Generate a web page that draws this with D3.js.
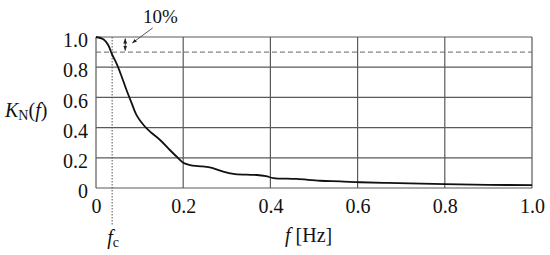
<!DOCTYPE html>
<html>
<head>
<meta charset="utf-8">
<script src="https://cdn.jsdelivr.net/npm/d3@7"></script>
<style>
  body { margin: 0; background: #fff; }
  svg text { font-family: "Liberation Serif", "DejaVu Serif", serif; fill: #111; }
</style>
</head>
<body>
<script>
// Curve K_N(f)
var freq = [0, 0.017, 0.028, 0.036, 0.047, 0.059, 0.070, 0.082, 0.093, 0.109, 0.124, 0.147, 0.170, 0.189, 0.2, 0.216, 0.235, 0.261, 0.29, 0.315, 0.345, 0.369, 0.39, 0.407, 0.46, 0.514, 0.56, 0.606, 0.66, 0.72, 0.8, 0.9, 1.0];
var kn = [1.0, 0.985, 0.947, 0.89, 0.825, 0.737, 0.649, 0.56, 0.483, 0.417, 0.373, 0.318, 0.25, 0.196, 0.167, 0.152, 0.145, 0.137, 0.11, 0.093, 0.088, 0.086, 0.078, 0.066, 0.06, 0.048, 0.044, 0.038, 0.034, 0.030, 0.026, 0.021, 0.019];

// Tick values and labels
var xTicks = [0, 0.2, 0.4, 0.6, 0.8, 1.0];
var xLabels = ["0", "0.2", "0.4", "0.6", "0.8", "1.0"];
var yTicks = [0, 0.2, 0.4, 0.6, 0.8, 1.0];
var yLabels = ["0", "0.2", "0.4", "0.6", "0.8", "1.0"];

// 10% band and cut-off frequency
var threshold = 0.9;
var fc = 0.037;

var width = 550, height = 255;
var margin = {left: 96, right: 18, top: 37, bottom: 67};
var serif = "'Liberation Serif', 'DejaVu Serif', serif";

var x = d3.scaleLinear().domain([0, 1]).range([margin.left, width - margin.right]);
var y = d3.scaleLinear().domain([0, 1]).range([height - margin.bottom, margin.top]);

var svg = d3.select("body")
    .append("svg")
    .attr("width", width)
    .attr("height", height);

var defs = svg.append("defs");
defs.append("marker")
    .attr("id", "head")
    .attr("viewBox", "0 0 10 10")
    .attr("refX", 10).attr("refY", 5)
    .attr("markerWidth", 5).attr("markerHeight", 5)
    .attr("orient", "auto-start-reverse")
    .append("path")
    .attr("d", "M0,1 L10,5 L0,9 Z")
    .attr("fill", "#222");

// grid lines
svg.append("g")
    .selectAll("line")
    .data(yTicks)
    .enter()
    .append("line")
    .attr("x1", x(0)).attr("x2", x(1))
    .attr("y1", d => y(d)).attr("y2", d => y(d))
    .attr("stroke", "#5a5a5a")
    .attr("stroke-width", 1.2);

svg.append("g")
    .selectAll("line")
    .data(xTicks)
    .enter()
    .append("line")
    .attr("x1", d => x(d)).attr("x2", d => x(d))
    .attr("y1", y(0)).attr("y2", y(1))
    .attr("stroke", "#5a5a5a")
    .attr("stroke-width", 1.2);

// dashed 90% line
svg.append("line")
    .attr("x1", x(0)).attr("x2", x(1))
    .attr("y1", y(threshold)).attr("y2", y(threshold))
    .attr("stroke", "#666")
    .attr("stroke-width", 1)
    .attr("stroke-dasharray", "5,3");

// dotted fc line
svg.append("line")
    .attr("x1", x(fc)).attr("x2", x(fc))
    .attr("y1", y(1)).attr("y2", y(0) + 37)
    .attr("stroke", "#555")
    .attr("stroke-width", 1)
    .attr("stroke-dasharray", "1.5,1.5");

// axes (labels only)
var xAxis = svg.append("g")
    .attr("transform", "translate(0," + y(0) + ")")
    .call(d3.axisBottom(x).tickValues(xTicks).tickSize(0).tickFormat((d, i) => xLabels[i]));
xAxis.attr("font-family", serif).attr("font-size", 20);
xAxis.select(".domain").remove();
xAxis.selectAll("text")
    .attr("y", 25).attr("dy", 0);

var yAxis = svg.append("g")
    .attr("transform", "translate(" + x(0) + ",0)")
    .call(d3.axisLeft(y).tickValues(yTicks).tickSize(0).tickPadding(8).tickFormat((d, i) => yLabels[i]));
yAxis.attr("font-family", serif).attr("font-size", 20);
yAxis.select(".domain").remove();
yAxis.selectAll("text")
    .attr("dy", "0.48em");

// curve
var line = d3.line()
    .x((d, i) => x(freq[i]))
    .y(d => y(d))
    .curve(d3.curveCatmullRom);

svg.append("path")
    .attr("d", line(kn))
    .attr("fill", "none")
    .attr("stroke", "#111")
    .attr("stroke-width", 1.8);

// 10% double arrow
svg.append("line")
    .attr("x1", x(0.067)).attr("x2", x(0.067))
    .attr("y1", y(0.99)).attr("y2", y(0.91))
    .attr("stroke", "#222")
    .attr("stroke-width", 1)
    .attr("marker-start", "url(#head)")
    .attr("marker-end", "url(#head)");

// pointer from label
svg.append("line")
    .attr("x1", x(0.13)).attr("y1", y(1.06))
    .attr("x2", x(0.083)).attr("y2", y(0.96))
    .attr("stroke", "#444")
    .attr("stroke-width", 0.9)
    .attr("marker-end", "url(#head)");

svg.append("text")
    .attr("x", x(0.108)).attr("y", 23)
    .attr("font-family", serif)
    .attr("font-size", 19)
    .text("10%");

// y label K_N(f)
var yl = svg.append("text")
    .attr("x", 5).attr("y", 117)
    .attr("font-family", serif)
    .attr("font-size", 20);
yl.append("tspan").attr("font-style", "italic").text("K");
yl.append("tspan").attr("dy", 3).attr("font-size", 14).text("N");
yl.append("tspan").attr("dy", -3).text("(");
yl.append("tspan").attr("font-style", "italic").text("f");
yl.append("tspan").text(")");

// x label f [Hz]
var xl = svg.append("text")
    .attr("x", 285).attr("y", 242)
    .attr("font-family", serif)
    .attr("font-size", 20);
xl.append("tspan").attr("font-style", "italic").text("f");
xl.append("tspan").text(" [Hz]");

// fc label
var fl = svg.append("text")
    .attr("x", x(fc) - 5).attr("y", 244)
    .attr("font-family", serif)
    .attr("font-size", 20);
fl.append("tspan").attr("font-style", "italic").text("f");
fl.append("tspan").attr("dy", 3).attr("font-size", 14).text("c");
</script>
</body>
</html>
